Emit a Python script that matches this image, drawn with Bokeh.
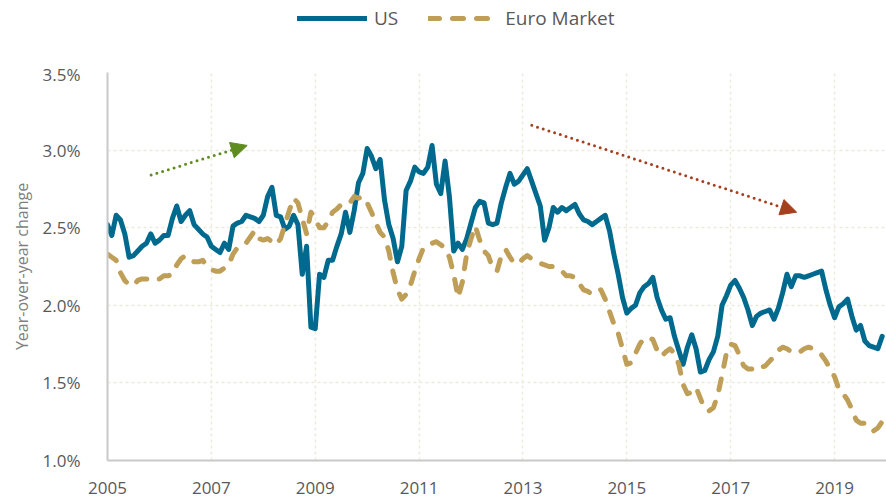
import numpy as np
import pandas as pd
from bokeh.plotting import figure
from bokeh.layouts import column
from bokeh.models import (Range1d, FixedTicker, PrintfTickFormatter, Legend, LegendItem,
                          Arrow, NormalHead, ColumnDataSource)
from bokeh.embed import file_html
from bokeh.resources import INLINE

# ---------------- data (monthly, Jan 2005 - Dec 2019) ----------------
months = pd.date_range("2005-01-01", "2019-12-01", freq="MS")

us = [
    2.52, 2.45, 2.58, 2.55, 2.46, 2.31, 2.32, 2.35, 2.38, 2.40, 2.46, 2.40,  # 2005
    2.42, 2.45, 2.45, 2.56, 2.64, 2.54, 2.58, 2.61, 2.52, 2.49, 2.46, 2.44,  # 2006
    2.38, 2.36, 2.34, 2.40, 2.36, 2.51, 2.53, 2.54, 2.58, 2.57, 2.56, 2.54,  # 2007
    2.58, 2.70, 2.76, 2.58, 2.57, 2.49, 2.51, 2.58, 2.52, 2.20, 2.38, 1.86,  # 2008
    1.85, 2.20, 2.18, 2.29, 2.29, 2.38, 2.46, 2.60, 2.47, 2.61, 2.79, 2.85,  # 2009
    3.01, 2.96, 2.88, 2.94, 2.68, 2.52, 2.43, 2.28, 2.38, 2.74, 2.80, 2.89,  # 2010
    2.86, 2.85, 2.89, 3.03, 2.78, 2.72, 2.93, 2.70, 2.35, 2.40, 2.36, 2.43,  # 2011
    2.53, 2.63, 2.67, 2.66, 2.53, 2.52, 2.53, 2.66, 2.76, 2.85, 2.78, 2.80,  # 2012
    2.84, 2.88, 2.80, 2.72, 2.64, 2.42, 2.50, 2.63, 2.60, 2.63, 2.61, 2.63,  # 2013
    2.65, 2.59, 2.55, 2.54, 2.52, 2.54, 2.56, 2.58, 2.48, 2.33, 2.20, 2.05,  # 2014
    1.95, 1.98, 2.00, 2.08, 2.12, 2.14, 2.18, 2.05, 1.97, 1.91, 1.92, 1.80,  # 2015
    1.71, 1.62, 1.73, 1.81, 1.72, 1.57, 1.58, 1.65, 1.70, 1.80, 2.00, 2.06,  # 2016
    2.13, 2.16, 2.11, 2.05, 1.97, 1.87, 1.93, 1.95, 1.96, 1.97, 1.91, 1.98,  # 2017
    2.08, 2.20, 2.12, 2.19, 2.19, 2.18, 2.19, 2.20, 2.21, 2.22, 2.10, 2.00,  # 2018
    1.92, 1.99, 2.01, 2.04, 1.93, 1.84, 1.87, 1.77, 1.74, 1.73, 1.72, 1.80,  # 2019
]

euro = [
    2.33, 2.31, 2.29, 2.21, 2.16, 2.13, 2.13, 2.16, 2.17, 2.17, 2.16, 2.17,  # 2005
    2.17, 2.19, 2.19, 2.20, 2.26, 2.30, 2.32, 2.30, 2.28, 2.28, 2.29, 2.25,  # 2006
    2.23, 2.22, 2.22, 2.24, 2.26, 2.33, 2.37, 2.39, 2.40, 2.44, 2.48, 2.43,  # 2007
    2.42, 2.43, 2.41, 2.39, 2.43, 2.52, 2.61, 2.69, 2.66, 2.56, 2.46, 2.60,  # 2008
    2.56, 2.50, 2.50, 2.54, 2.60, 2.62, 2.65, 2.65, 2.66, 2.70, 2.69, 2.70,  # 2009
    2.66, 2.60, 2.53, 2.47, 2.44, 2.35, 2.21, 2.10, 2.04, 2.07, 2.13, 2.22,  # 2010
    2.30, 2.37, 2.38, 2.40, 2.41, 2.39, 2.37, 2.31, 2.20, 2.05, 2.15, 2.33,  # 2011
    2.43, 2.51, 2.42, 2.35, 2.32, 2.24, 2.22, 2.32, 2.36, 2.31, 2.27, 2.27,  # 2012
    2.30, 2.32, 2.30, 2.28, 2.27, 2.26, 2.25, 2.25, 2.24, 2.22, 2.19, 2.19,  # 2013
    2.18, 2.14, 2.10, 2.09, 2.07, 2.09, 2.10, 2.04, 1.96, 1.88, 1.82, 1.72,  # 2014
    1.62, 1.63, 1.69, 1.75, 1.79, 1.79, 1.78, 1.71, 1.67, 1.70, 1.72, 1.69,  # 2015
    1.62, 1.49, 1.43, 1.44, 1.47, 1.40, 1.33, 1.32, 1.34, 1.42, 1.55, 1.69,  # 2016
    1.75, 1.74, 1.68, 1.61, 1.59, 1.59, 1.58, 1.60, 1.61, 1.64, 1.67, 1.71,  # 2017
    1.73, 1.72, 1.70, 1.69, 1.70, 1.72, 1.73, 1.72, 1.70, 1.68, 1.64, 1.59,  # 2018
    1.54, 1.46, 1.43, 1.39, 1.33, 1.26, 1.24, 1.24, 1.21, 1.19, 1.21, 1.25,  # 2019
]

x_ticks = [2005, 2007, 2009, 2011, 2013, 2015, 2017, 2019]
y_ticks = [1.0, 1.5, 2.0, 2.5, 3.0, 3.5]
series_names = ["US", "Euro Market"]

# trend arrows (year, percent)
up_arrow = (2005.84, 2.84, 2007.69, 3.03)
down_arrow = (2013.17, 3.16, 2018.27, 2.60)

# ---------------- styles ----------------
US_COLOR = "#006A8E"
EURO_COLOR = "#BF9F58"
TEXT_COLOR = "#595959"
FONT = "Open Sans"
US_STYLE = dict(line_color=US_COLOR, line_width=5, line_join="round", line_cap="round")
EU_STYLE = dict(line_color=EURO_COLOR, line_width=5, line_dash="11 13", line_cap="round",
                line_join="round")

xdec = months.year + (months.month - 1) / 12.0
src = ColumnDataSource(dict(x=xdec, us=us, euro=euro))

# ---------------- main chart ----------------
p = figure(width=886, height=437, output_backend="svg", toolbar_location=None,
           x_range=Range1d(2005, 2020), y_range=Range1d(1.0, 3.5),
           min_border_left=107, min_border_right=0, min_border_top=10, min_border_bottom=39)
p.outline_line_color = None
p.background_fill_color = "white"
p.border_fill_color = "white"

r_us = p.line("x", "us", source=src, **US_STYLE)
r_eu = p.line("x", "euro", source=src, **EU_STYLE)

p.xaxis.ticker = FixedTicker(ticks=x_ticks)
p.xaxis.formatter = PrintfTickFormatter(format="%d")
p.yaxis.ticker = FixedTicker(ticks=y_ticks)
p.yaxis.formatter = PrintfTickFormatter(format="%.1f%%")
for ax in (p.xaxis[0], p.yaxis[0]):
    ax.major_tick_line_color = None
    ax.minor_tick_line_color = None
    ax.axis_line_color = "#C9C9C9"
    ax.axis_line_width = 2
    ax.major_label_text_font = FONT
    ax.major_label_text_font_size = "17px"
    ax.major_label_text_color = TEXT_COLOR
p.xaxis.major_label_standoff = 15
p.yaxis.major_label_standoff = 21
p.yaxis.axis_label = "Year-over-year change"
p.yaxis.axis_label_text_font = FONT
p.yaxis.axis_label_text_font_size = "16px"
p.yaxis.axis_label_text_font_style = "normal"
p.yaxis.axis_label_text_color = "#7F7F7F"
p.yaxis.axis_label_standoff = 7

p.xgrid.ticker = FixedTicker(ticks=x_ticks)
p.ygrid.ticker = FixedTicker(ticks=y_ticks)
for g in (p.xgrid[0], p.ygrid[0]):
    g.grid_line_color = "#ECEADB"
    g.grid_line_dash = "3 3"
    g.grid_line_width = 1.5

p.add_layout(Arrow(x_start=up_arrow[0], y_start=up_arrow[1], x_end=up_arrow[2], y_end=up_arrow[3],
                   line_color="#5E8C1E", line_width=3, line_dash="0 6", line_cap="round",
                   end=NormalHead(size=16, fill_color="#5E8C1E", line_color="#5E8C1E", line_width=1)))
p.add_layout(Arrow(x_start=down_arrow[0], y_start=down_arrow[1], x_end=down_arrow[2], y_end=down_arrow[3],
                   line_color="#A5401E", line_width=3, line_dash="0 6", line_cap="round",
                   end=NormalHead(size=16, fill_color="#A5401E", line_color="#A5401E", line_width=1)))

# ---------------- legend strip above the chart ----------------
lg = figure(width=886, height=62, output_backend="svg", toolbar_location=None,
            x_range=Range1d(0, 1), y_range=Range1d(0, 1),
            x_axis_location=None, y_axis_location=None, min_border=0)
lg.outline_line_color = None
lg.xgrid.visible = False
lg.ygrid.visible = False
# key renderers: carry the series styles for the legend; their points sit outside the visible range
k_us = lg.line(x=[5, 6], y=[5, 6], **US_STYLE)
k_eu = lg.line(x=[5, 6], y=[5, 6], **EU_STYLE)
legend = Legend(items=[LegendItem(label=series_names[0], renderers=[k_us]),
                       LegendItem(label=series_names[1], renderers=[k_eu])],
                orientation="horizontal", location=(190, 31),
                glyph_width=70, glyph_height=20, label_standoff=7, spacing=30,
                label_text_font=FONT, label_text_font_size="19px", label_text_color=TEXT_COLOR,
                border_line_color=None, background_fill_alpha=0, padding=0, margin=0)
lg.add_layout(legend, "center")

layout = column(lg, p, spacing=0)
open("out.html", "w").write(file_html(layout, INLINE))
